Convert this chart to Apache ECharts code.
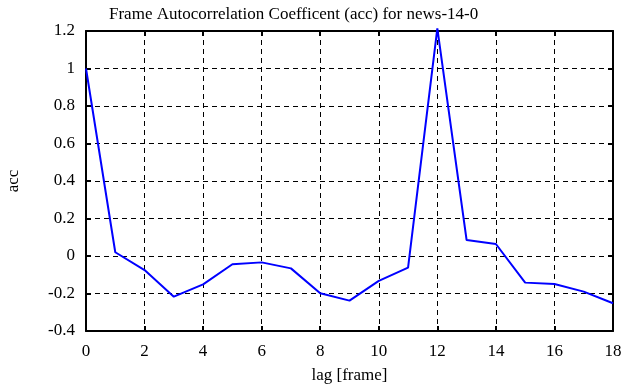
<!DOCTYPE html>
<html>
<head>
<meta charset="utf-8">
<script src="https://cdn.jsdelivr.net/npm/echarts@6/dist/echarts.min.js"></script>
<style>
  html, body { margin: 0; padding: 0; background: #fff; }
  #chart { width: 624px; height: 387px; }
</style>
</head>
<body>
<div id="chart"></div>
<script>
const lags = [0, 1, 2, 3, 4, 5, 6, 7, 8, 9, 10, 11, 12, 13, 14, 15, 16, 17, 18];
const acc = [1.0, 0.02, -0.075, -0.217, -0.151, -0.044, -0.034, -0.066, -0.199, -0.238,
             -0.133, -0.062, 1.214, 0.085, 0.064, -0.142, -0.149, -0.19, -0.252];

const font = 'Liberation Serif, Times New Roman, serif';
const chart = echarts.init(document.getElementById('chart'));

const gridLine = { show: true, lineStyle: { color: '#000', type: [5, 4], width: 1 } };
const frame = { show: true, onZero: false, lineStyle: { color: '#000', width: 2 } };
const ticks = { show: true, inside: true, length: 5, lineStyle: { color: '#000', width: 2 } };
const fmt = v => String(Math.round(v * 10) / 10);

const xBase = { type: 'value', min: 0, max: 18, interval: 2, axisLine: frame, axisTick: ticks };
const yBase = { type: 'value', min: -0.4, max: 1.2, interval: 0.2, axisLine: frame, axisTick: ticks };

chart.setOption({
    animation: false,
    title: {
        text: 'Frame Autocorrelation Coefficent (acc) for news-14-0',
        left: 104,
        top: 1,
        textStyle: { fontFamily: font, fontSize: 17, fontWeight: 'normal', color: '#000' }
    },
    grid: { left: 86, right: 11, top: 31, bottom: 56, outerBoundsMode: 'none' },
    xAxis: [
        Object.assign({}, xBase, {
            position: 'bottom',
            name: 'lag [frame]',
            nameLocation: 'middle',
            nameGap: 36,
            nameTextStyle: { fontFamily: font, fontSize: 17, color: '#000' },
            splitLine: gridLine,
            axisLabel: { fontFamily: font, fontSize: 17, color: '#000', margin: 12, formatter: fmt }
        }),
        Object.assign({}, xBase, {
            position: 'top',
            splitLine: { show: false },
            axisLabel: { show: false }
        })
    ],
    yAxis: [
        Object.assign({}, yBase, {
            position: 'left',
            name: 'acc',
            nameLocation: 'middle',
            nameGap: 64,
            nameTextStyle: { fontFamily: font, fontSize: 17, color: '#000' },
            splitLine: gridLine,
            axisLabel: { fontFamily: font, fontSize: 17, color: '#000', margin: 11, formatter: fmt }
        }),
        Object.assign({}, yBase, {
            position: 'right',
            splitLine: { show: false },
            axisLabel: { show: false }
        })
    ],
    series: [{
        type: 'line',
        xAxisIndex: 0,
        yAxisIndex: 0,
        data: lags.map((l, i) => [l, acc[i]]),
        showSymbol: false,
        clip: false,
        lineStyle: { color: '#0000ff', width: 2 }
    }]
});
</script>
</body>
</html>
